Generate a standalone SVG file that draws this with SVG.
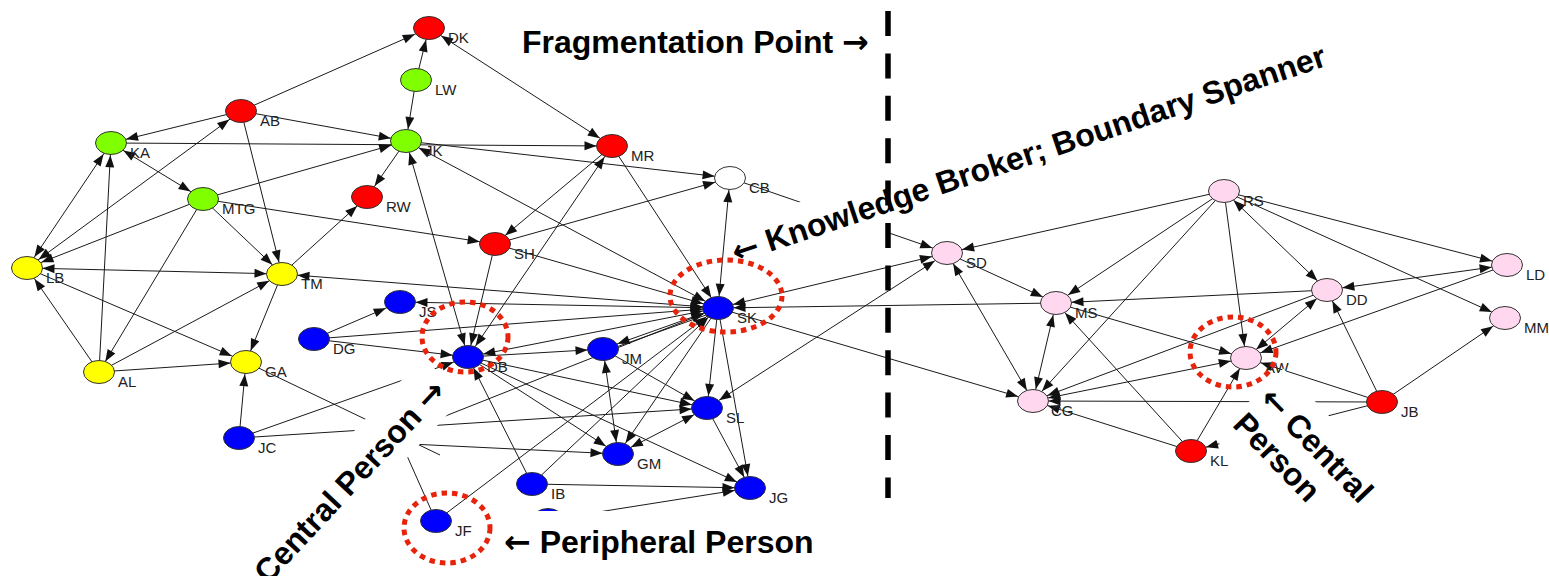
<svg xmlns="http://www.w3.org/2000/svg" width="1549" height="576" viewBox="0 0 1549 576">
<style>
.e{stroke:#1a1a1a;stroke-width:1;fill:none}
.E15{marker-end:url(#m15)}.E14{marker-end:url(#m14)}.E13{marker-end:url(#m13)}.E12{marker-end:url(#m12)}
.S15{marker-start:url(#m15)}.S14{marker-start:url(#m14)}.S13{marker-start:url(#m13)}.S12{marker-start:url(#m12)}
ellipse{stroke:#333;stroke-width:1}
.r{fill:#ff0000}.g{fill:#80ff00}.y{fill:#ffff00}.b{fill:#0000ff}.p{fill:#ffd8f0}.w{fill:#ffffff}
.lb{font-family:"Liberation Sans",Arial,sans-serif;font-size:15px;fill:#222}
.big{font-family:"Liberation Sans",Arial,sans-serif;font-size:32px;font-weight:bold;fill:#000}
.ar{font-family:"DejaVu Sans",sans-serif;font-weight:bold}
.hl{fill:none;stroke:#e8230c;stroke-width:5;stroke-dasharray:5.5 5}
.box{fill:#ffffff}
</style>
<defs>
<marker id="m15" markerUnits="userSpaceOnUse" markerWidth="20" markerHeight="20" refX="15.5" refY="0" orient="auto-start-reverse" overflow="visible"><path d="M0,0 L-12,-4.5 L-12,4.5 Z" fill="#111"/></marker>
<marker id="m14" markerUnits="userSpaceOnUse" markerWidth="20" markerHeight="20" refX="14.5" refY="0" orient="auto-start-reverse" overflow="visible"><path d="M0,0 L-12,-4.5 L-12,4.5 Z" fill="#111"/></marker>
<marker id="m13" markerUnits="userSpaceOnUse" markerWidth="20" markerHeight="20" refX="13.3" refY="0" orient="auto-start-reverse" overflow="visible"><path d="M0,0 L-12,-4.5 L-12,4.5 Z" fill="#111"/></marker>
<marker id="m12" markerUnits="userSpaceOnUse" markerWidth="20" markerHeight="20" refX="12.2" refY="0" orient="auto-start-reverse" overflow="visible"><path d="M0,0 L-12,-4.5 L-12,4.5 Z" fill="#111"/></marker>
</defs>
<rect x="0" y="0" width="1549" height="576" fill="#ffffff"/>
<g id="connectors" class="e">
<line x1="241" y1="111" x2="429" y2="28" class="E15"/>
<line x1="416" y1="80" x2="429" y2="28" class="E12"/>
<line x1="416" y1="80" x2="406" y2="141" class="E12"/>
<line x1="429" y1="28" x2="612" y2="146" class="S14 E14"/>
<line x1="241" y1="111" x2="111" y2="143" class="E15"/>
<line x1="241" y1="111" x2="406" y2="141" class="E15"/>
<line x1="241" y1="111" x2="282" y2="274" class="E12"/>
<line x1="111" y1="143" x2="612" y2="146" class="E15"/>
<line x1="111" y1="143" x2="203" y2="199" class="S14 E14"/>
<line x1="203" y1="199" x2="406" y2="141" class="E15"/>
<line x1="406" y1="141" x2="367" y2="197" class="E13"/>
<line x1="406" y1="141" x2="468" y2="357" class="S12 E12"/>
<line x1="406" y1="141" x2="718" y2="308" class="S14 E14"/>
<line x1="406" y1="141" x2="730" y2="178" class="E15"/>
<line x1="111" y1="143" x2="27" y2="268" class="S13 E13"/>
<line x1="99" y1="372" x2="111" y2="143" class="E12"/>
<line x1="27" y1="268" x2="241" y2="111" class="S14 E14"/>
<line x1="203" y1="199" x2="27" y2="268" class="E15"/>
<line x1="203" y1="199" x2="282" y2="274" class="E13"/>
<line x1="203" y1="199" x2="99" y2="372" class="E12"/>
<line x1="203" y1="199" x2="495" y2="244" class="E15"/>
<line x1="27" y1="268" x2="282" y2="274" class="S15 E15"/>
<line x1="27" y1="268" x2="246" y2="362" class="E15"/>
<line x1="99" y1="372" x2="27" y2="268" class="E13"/>
<line x1="99" y1="372" x2="282" y2="274" class="E14"/>
<line x1="99" y1="372" x2="246" y2="362" class="E15"/>
<line x1="282" y1="274" x2="367" y2="197" class="E13"/>
<line x1="282" y1="274" x2="246" y2="362" class="E12"/>
<line x1="282" y1="274" x2="718" y2="308" class="S15 E15"/>
<line x1="239" y1="438" x2="246" y2="362" class="E12"/>
<line x1="239" y1="438" x2="468" y2="357" class="E15"/>
<line x1="239" y1="438" x2="707" y2="408" class="E15"/>
<line x1="246" y1="362" x2="440" y2="455"/>
<line x1="612" y1="146" x2="495" y2="244" class="E13"/>
<line x1="612" y1="146" x2="468" y2="357" class="S13 E13"/>
<line x1="612" y1="146" x2="718" y2="308" class="E12"/>
<line x1="495" y1="244" x2="468" y2="357" class="E12"/>
<line x1="495" y1="244" x2="730" y2="178" class="E15"/>
<line x1="495" y1="244" x2="718" y2="308" class="E15"/>
<line x1="730" y1="178" x2="718" y2="308" class="S12 E12"/>
<line x1="730" y1="178" x2="947" y2="253" class="E15"/>
<line x1="314" y1="339" x2="400" y2="302" class="E15"/>
<line x1="314" y1="339" x2="718" y2="308" class="E15"/>
<line x1="314" y1="339" x2="468" y2="357" class="E15"/>
<line x1="400" y1="302" x2="718" y2="308" class="S15 E15"/>
<line x1="468" y1="357" x2="718" y2="308" class="S15 E15"/>
<line x1="468" y1="357" x2="603" y2="349" class="E15"/>
<line x1="468" y1="357" x2="618" y2="454" class="E14"/>
<line x1="468" y1="357" x2="707" y2="408" class="E15"/>
<line x1="468" y1="357" x2="750" y2="488" class="E14"/>
<line x1="532" y1="484" x2="468" y2="357" class="E12"/>
<line x1="532" y1="484" x2="718" y2="308" class="E13"/>
<line x1="532" y1="484" x2="750" y2="488" class="E15"/>
<line x1="548" y1="520" x2="750" y2="488" class="E15"/>
<line x1="436" y1="521" x2="718" y2="308" class="E14"/>
<line x1="436" y1="521" x2="400" y2="440"/>
<line x1="405" y1="432" x2="718" y2="308" class="E15"/>
<line x1="410" y1="444" x2="618" y2="454" class="E15"/>
<line x1="603" y1="349" x2="718" y2="308" class="S15 E15"/>
<line x1="604" y1="351.4" x2="719" y2="310.4"/>
<line x1="603" y1="349" x2="618" y2="454" class="S12 E12"/>
<line x1="603" y1="349" x2="707" y2="408" class="E14"/>
<line x1="618" y1="454" x2="707" y2="408" class="S14 E14"/>
<line x1="707" y1="408" x2="750" y2="488" class="E12"/>
<line x1="718" y1="308" x2="707" y2="408" class="E12"/>
<line x1="718" y1="308" x2="750" y2="488" class="E12"/>
<line x1="718" y1="308" x2="618" y2="454" class="E13"/>
<line x1="947" y1="253" x2="718" y2="308" class="S15 E15"/>
<line x1="1056" y1="303" x2="718" y2="308" class="E15"/>
<line x1="718" y1="308" x2="1033" y2="401" class="E15"/>
<line x1="707" y1="408" x2="947" y2="253" class="S14 E14"/>
<line x1="1224" y1="191" x2="947" y2="253" class="E15"/>
<line x1="1224" y1="191" x2="1056" y2="303" class="E14"/>
<line x1="1224" y1="191" x2="1033" y2="401" class="E13"/>
<line x1="1224" y1="191" x2="1246" y2="358" class="E12"/>
<line x1="1224" y1="191" x2="1327" y2="290" class="S13 E13"/>
<line x1="1224" y1="191" x2="1507" y2="265" class="E15"/>
<line x1="1224" y1="191" x2="1505" y2="318" class="E14"/>
<line x1="1327" y1="290" x2="1056" y2="303" class="E15"/>
<line x1="1327" y1="290" x2="1507" y2="265" class="S15 E15"/>
<line x1="1327" y1="290" x2="1033" y2="401" class="E15"/>
<line x1="1327" y1="290" x2="1246" y2="358" class="S13 E13"/>
<line x1="1507" y1="265" x2="1246" y2="358" class="E15"/>
<line x1="1056" y1="303" x2="1246" y2="358" class="E15"/>
<line x1="1056" y1="303" x2="1033" y2="401" class="S12 E12"/>
<line x1="1191" y1="451" x2="1056" y2="303" class="E13"/>
<line x1="947" y1="253" x2="1056" y2="303" class="E14"/>
<line x1="947" y1="253" x2="1033" y2="401" class="S12 E12"/>
<line x1="1382" y1="402" x2="1033" y2="401" class="E15"/>
<line x1="1382" y1="402" x2="1246" y2="358" class="E15"/>
<line x1="1382" y1="402" x2="1327" y2="290" class="E12"/>
<line x1="1382" y1="402" x2="1505" y2="318" class="E14"/>
<line x1="1382" y1="402" x2="1191" y2="451" class="E15"/>
<line x1="1191" y1="451" x2="1246" y2="358" class="E12"/>
<line x1="1191" y1="451" x2="1033" y2="401" class="E15"/>
<line x1="1033" y1="401" x2="1246" y2="358" class="S15 E15"/>
</g>
<g id="nodes">
<g id="n-DK"><ellipse cx="429" cy="28" rx="15.5" ry="11.5" class="r"/><text x="448" y="42.5" class="lb">DK</text></g>
<g id="n-LW"><ellipse cx="416" cy="80" rx="15.5" ry="11.5" class="g"/><text x="435" y="94.5" class="lb">LW</text></g>
<g id="n-AB"><ellipse cx="241" cy="111" rx="15.5" ry="11.5" class="r"/><text x="260" y="125.5" class="lb">AB</text></g>
<g id="n-KA"><ellipse cx="111" cy="143" rx="15.5" ry="11.5" class="g"/><text x="130" y="157.5" class="lb">KA</text></g>
<g id="n-JK"><ellipse cx="406" cy="141" rx="15.5" ry="11.5" class="g"/><text x="425" y="155.5" class="lb">JK</text></g>
<g id="n-MR"><ellipse cx="612" cy="146" rx="15.5" ry="11.5" class="r"/><text x="631" y="160.5" class="lb">MR</text></g>
<g id="n-CB"><ellipse cx="730" cy="178" rx="15.5" ry="11.5" class="w"/><text x="749" y="192.5" class="lb">CB</text></g>
<g id="n-MTG"><ellipse cx="203" cy="199" rx="15.5" ry="11.5" class="g"/><text x="222" y="213.5" class="lb">MTG</text></g>
<g id="n-RW"><ellipse cx="367" cy="197" rx="15.5" ry="11.5" class="r"/><text x="386" y="211.5" class="lb">RW</text></g>
<g id="n-SH"><ellipse cx="495" cy="244" rx="15.5" ry="11.5" class="r"/><text x="514" y="258.5" class="lb">SH</text></g>
<g id="n-LB"><ellipse cx="27" cy="268" rx="15.5" ry="11.5" class="y"/><text x="46" y="282.5" class="lb">LB</text></g>
<g id="n-TM"><ellipse cx="282" cy="274" rx="15.5" ry="11.5" class="y"/><text x="301" y="288.5" class="lb">TM</text></g>
<g id="n-JS"><ellipse cx="400" cy="302" rx="15.5" ry="11.5" class="b"/><text x="419" y="316.5" class="lb">JS</text></g>
<g id="n-SK"><ellipse cx="718" cy="308" rx="15.5" ry="11.5" class="b"/><text x="737" y="322.5" class="lb">SK</text></g>
<g id="n-DG"><ellipse cx="314" cy="339" rx="15.5" ry="11.5" class="b"/><text x="333" y="353.5" class="lb">DG</text></g>
<g id="n-JM"><ellipse cx="603" cy="349" rx="15.5" ry="11.5" class="b"/><text x="622" y="363.5" class="lb">JM</text></g>
<g id="n-DB"><ellipse cx="468" cy="357" rx="15.5" ry="11.5" class="b"/><text x="487" y="371.5" class="lb">DB</text></g>
<g id="n-GA"><ellipse cx="246" cy="362" rx="15.5" ry="11.5" class="y"/><text x="265" y="376.5" class="lb">GA</text></g>
<g id="n-AL"><ellipse cx="99" cy="372" rx="15.5" ry="11.5" class="y"/><text x="118" y="386.5" class="lb">AL</text></g>
<g id="n-SL"><ellipse cx="707" cy="408" rx="15.5" ry="11.5" class="b"/><text x="726" y="422.5" class="lb">SL</text></g>
<g id="n-JC"><ellipse cx="239" cy="438" rx="15.5" ry="11.5" class="b"/><text x="258" y="452.5" class="lb">JC</text></g>
<g id="n-GM"><ellipse cx="618" cy="454" rx="15.5" ry="11.5" class="b"/><text x="637" y="468.5" class="lb">GM</text></g>
<g id="n-IB"><ellipse cx="532" cy="484" rx="15.5" ry="11.5" class="b"/><text x="551" y="498.5" class="lb">IB</text></g>
<g id="n-JG"><ellipse cx="750" cy="488" rx="15.5" ry="11.5" class="b"/><text x="769" y="502.5" class="lb">JG</text></g>
<g id="n-JF"><ellipse cx="436" cy="521" rx="15.5" ry="11.5" class="b"/><text x="455" y="535.5" class="lb">JF</text></g>
<g id="n-hidden"><ellipse cx="548" cy="520" rx="15.5" ry="11.5" class="b"/></g>
<g id="n-RS"><ellipse cx="1224" cy="191" rx="15.5" ry="11.5" class="p"/><text x="1243" y="205.5" class="lb">RS</text></g>
<g id="n-SD"><ellipse cx="947" cy="253" rx="15.5" ry="11.5" class="p"/><text x="966" y="267.5" class="lb">SD</text></g>
<g id="n-LD"><ellipse cx="1507" cy="265" rx="15.5" ry="11.5" class="p"/><text x="1526" y="279.5" class="lb">LD</text></g>
<g id="n-DD"><ellipse cx="1327" cy="290" rx="15.5" ry="11.5" class="p"/><text x="1346" y="304.5" class="lb">DD</text></g>
<g id="n-MS"><ellipse cx="1056" cy="303" rx="15.5" ry="11.5" class="p"/><text x="1075" y="317.5" class="lb">MS</text></g>
<g id="n-MM"><ellipse cx="1505" cy="318" rx="15.5" ry="11.5" class="p"/><text x="1524" y="332.5" class="lb">MM</text></g>
<g id="n-AW"><ellipse cx="1246" cy="358" rx="15.5" ry="11.5" class="p"/><text x="1265" y="372.5" class="lb">AW</text></g>
<g id="n-CG"><ellipse cx="1033" cy="401" rx="15.5" ry="11.5" class="p"/><text x="1051" y="415.5" class="lb">CG</text></g>
<g id="n-JB"><ellipse cx="1382" cy="402" rx="15.5" ry="11.5" class="r"/><text x="1401" y="416.5" class="lb">JB</text></g>
<g id="n-KL"><ellipse cx="1191" cy="451" rx="15.5" ry="11.5" class="r"/><text x="1210" y="465.5" class="lb">KL</text></g>
</g>
<g id="label-boxes">
<rect x="2" y="-38" width="625" height="58" class="box" transform="translate(736,263.4) rotate(-18.5)"/>
<rect x="-30" y="-42" width="302" height="57" class="box" transform="translate(268,585) rotate(-47)"/>
<rect x="-5" y="-40" width="160" height="98" class="box" transform="translate(1258,400) rotate(46)"/>
<rect x="495" y="511" width="470" height="65" class="box"/>
</g>
<g id="highlights">
<ellipse cx="465" cy="337" rx="43" ry="35" class="hl"/>
<ellipse cx="726" cy="296" rx="56" ry="36" class="hl"/>
<ellipse cx="447" cy="528" rx="43" ry="35" class="hl"/>
<ellipse cx="1233" cy="352" rx="43" ry="35" class="hl"/>
</g>
<g id="annotations">
<text x="522" y="53" class="big">Fragmentation Point <tspan class="ar">→</tspan></text>
<text x="0" y="0" class="big" transform="translate(736,263.4) rotate(-18.5)"><tspan class="ar">←</tspan> Knowledge Broker; Boundary Spanner</text>
<text x="0" y="0" class="big" transform="translate(268,585) rotate(-47)">Central Person <tspan class="ar">→</tspan></text>
<g transform="translate(1258,400) rotate(46)"><text x="0" y="0" class="big"><tspan class="ar">←</tspan> Central</text><text x="0" y="37" class="big">Person</text></g>
<text x="504" y="553" class="big"><tspan class="ar">←</tspan> Peripheral Person</text>
</g>
<line id="fragmentation-line" x1="888" y1="11" x2="888" y2="498" stroke="#000" stroke-width="5.5" stroke-dasharray="25 17.4"/>
</svg>
